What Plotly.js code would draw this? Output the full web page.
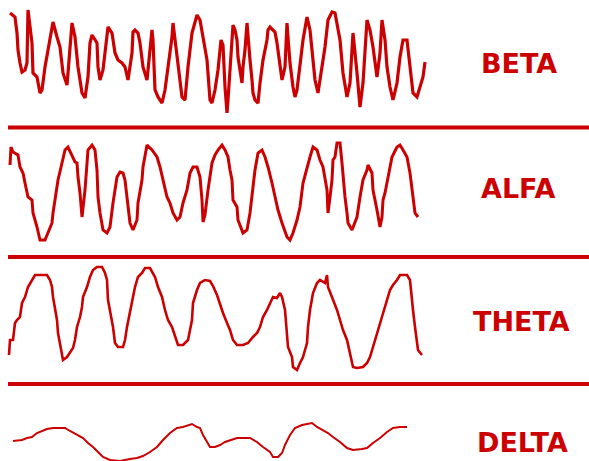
<!DOCTYPE html>
<html>
<head>
<meta charset="utf-8">
<script src="https://cdn.plot.ly/plotly-3.0.1.min.js"></script>
<style>
html,body{margin:0;padding:0;background:#fff;}
#chart{width:589px;height:461px;}
</style>
</head>
<body>
<div id="chart"></div>
<script>
// ---- Data (time samples and amplitudes) ----
var bandNames = ["BETA", "ALFA", "THETA", "DELTA"];

var betaT = [10,15,17,18,20,22,25,27,28,30,32,33,37,40,42,45,48,52,53,57,60,63,67,68,70,72,75,78,82,85,88,90,92,97,98,100,103,107,108,112,115,118,122,125,128,132,133,135,138,140,143,147,150,152,153,155,158,162,165,168,172,173,175,178,182,185,188,192,197,200,203,207,210,212,215,218,221,223,225,227,228,230,232,233,235,237,238,240,242,243,245,247,248,250,252,253,255,258,260,263,267,268,270,275,277,280,282,285,287,288,290,293,295,297,300,303,307,310,313,315,318,322,325,328,332,335,338,340,343,347,350,353,357,360,363,365,367,370,373,377,380,382,385,387,390,393,397,400,403,407,410,413,417,420,423,425];
var betaAmp = [49,45,29,12,-1,-10,-8,-1,52,32,19,-11,-15,-31,-28,-5,12,35,40,25,15,-11,-23,-11,12,39,25,-5,-31,-36,-15,19,27,19,-5,-18,-8,29,35,29,9,2,-1,-5,-18,9,30,32,29,19,-5,-18,15,32,22,-28,-35,-41,-28,-5,25,39,22,-5,-35,-38,-5,29,47,42,25,2,-38,-41,-28,-8,22,17,-25,-51,-38,-5,19,37,32,22,5,-8,-21,-5,12,39,25,2,-18,-31,-38,-41,-21,2,22,32,35,30,19,-5,-18,-5,39,25,-1,-25,-35,-28,-5,22,45,32,2,-18,-31,-5,15,42,50,49,35,22,-11,-35,-21,29,-11,-45,-21,12,42,32,15,-15,9,42,22,-5,-25,-38,-21,5,22,22,-5,-31,-35,-25,-15,0];

var alfaT = [10,11,13,18,20,23,25,28,32,33,37,40,45,48,52,53,58,62,65,68,72,75,77,78,80,82,85,87,88,92,95,97,98,100,103,107,110,113,115,117,120,123,125,127,130,133,137,138,142,143,147,152,157,160,163,167,170,173,177,180,183,187,190,193,197,200,202,203,205,208,212,215,218,222,225,228,230,232,233,237,238,242,243,247,250,253,255,258,262,265,268,272,275,278,282,287,290,293,297,300,303,307,310,313,317,320,323,327,328,330,332,333,335,337,340,342,343,345,347,348,352,355,357,360,363,367,368,372,373,377,380,382,383,385,388,392,397,400,403,407,410,413,415,418];
var alfaAmp = [27,45,40,37,25,19,9,-5,-8,-21,-35,-48,-48,-41,-31,-21,12,29,42,45,37,30,29,15,-1,-25,2,29,42,47,42,22,-5,-21,-38,-41,-35,-11,2,15,20,19,12,-5,-31,-38,-28,-11,12,25,47,42,35,25,12,-5,-11,-21,-28,-25,-11,2,19,25,25,15,-8,-30,-23,2,29,37,42,47,42,35,22,12,-8,-15,-28,-38,-41,-38,-21,5,22,39,42,35,25,9,-5,-18,-31,-45,-48,-41,-28,-15,9,25,35,45,42,32,25,2,-21,-5,12,32,35,49,49,29,15,-5,-21,-31,-38,-31,-25,-5,12,22,27,19,2,-18,-35,-25,-8,-1,15,35,45,47,42,35,19,-8,-21,-25];

var thetaT = [9,10,13,15,17,20,22,25,28,32,35,40,47,50,52,53,55,57,58,60,63,67,70,73,75,77,80,82,83,87,90,93,97,102,105,107,108,110,113,115,118,123,125,127,130,133,135,138,142,145,150,155,158,162,165,168,172,175,178,183,188,190,192,193,197,200,205,210,213,217,220,223,227,230,233,237,243,248,253,257,260,263,267,270,273,277,280,282,285,288,292,293,297,300,303,307,308,310,313,317,320,325,327,328,332,335,337,340,343,347,350,353,357,363,367,370,373,377,380,383,387,390,393,397,400,407,410,412,413,415,417,418,422];
var thetaAmp = [-35,-20,-20,-3,0,3,17,23,33,40,45,45,45,40,33,23,13,0,-13,-23,-40,-37,-33,-28,-20,-7,3,13,23,33,43,50,53,53,47,40,20,10,-7,-23,-27,-27,-20,-7,10,23,33,43,47,52,52,43,33,23,10,0,-7,-17,-25,-25,-20,-10,0,17,30,37,40,39,34,25,15,7,-3,-10,-20,-25,-25,-23,-17,-13,-7,3,10,17,23,22,27,23,10,-27,-37,-47,-50,-43,-37,-23,-7,10,27,37,40,37,45,33,23,17,10,0,-10,-20,-33,-47,-48,-47,-43,-37,-27,-13,-3,7,20,30,35,40,45,45,40,17,10,-7,-20,-30,-35];

var deltaT = [13,22,27,32,37,42,47,53,65,70,77,83,88,93,98,103,110,120,130,137,143,150,157,163,170,177,183,192,197,200,203,207,210,215,220,225,230,237,250,257,263,270,273,278,282,285,290,295,302,312,317,322,328,333,340,347,353,362,367,373,380,387,393,400,407];
var deltaAmp = [-1,0,2,3,7,9,11,12,12,9,5,2,-3,-7,-12,-17,-20,-21,-19,-18,-16,-12,-7,0,7,12,13,16,13,12,5,-2,-7,-7,-5,-2,0,2,2,-2,-7,-12,-17,-17,-13,-5,5,12,15,17,13,10,7,3,-2,-8,-10,-9,-8,-3,2,8,12,13,13];

// ---- Layout geometry (pixels of the 589x461 page) ----
var W = 589, H = 461;
var RED = "#cc0000";
var panels = [
  {top: 0,   bottom: 127, center: 62,  width: 3.2, labelY: 63},
  {top: 127, bottom: 257, center: 192, width: 3,   labelY: 188},
  {top: 257, bottom: 384, center: 320, width: 2.6, labelY: 321},
  {top: 384, bottom: 461, center: 440, width: 2,   labelY: 442}
];
var labelX = [519, 518, 521, 522];
var separators = [127.5, 257, 384];

var series = [[betaT, betaAmp], [alfaT, alfaAmp], [thetaT, thetaAmp], [deltaT, deltaAmp]];

var traces = [];
var layout = {
  width: W, height: H,
  margin: {l: 0, r: 0, t: 0, b: 0, pad: 0},
  paper_bgcolor: "#ffffff",
  plot_bgcolor: "rgba(0,0,0,0)",
  showlegend: false,
  xaxis: {range: [0, W], visible: false, fixedrange: true},
  shapes: [],
  annotations: []
};

panels.forEach(function (p, i) {
  var axName = i === 0 ? "yaxis" : "yaxis" + (i + 1);
  var axRef = i === 0 ? "y" : "y" + (i + 1);
  layout[axName] = {
    domain: [1 - p.bottom / H, 1 - p.top / H],
    range: [p.center - p.bottom, p.center - p.top],
    visible: false,
    fixedrange: true
  };
  traces.push({
    type: "scatter",
    mode: "lines",
    x: series[i][0],
    y: series[i][1],
    xaxis: "x",
    yaxis: axRef,
    line: {color: RED, width: p.width, shape: "linear"},
    hoverinfo: "skip",
    name: bandNames[i]
  });
  layout.annotations.push({
    xref: "paper", yref: "paper",
    x: labelX[i] / W, y: 1 - p.labelY / H,
    xanchor: "center", yanchor: "middle",
    text: "<b>" + bandNames[i] + "</b>",
    showarrow: false,
    font: {family: "DejaVu Sans", size: 27, color: RED}
  });
});

separators.forEach(function (sy) {
  layout.shapes.push({
    type: "line", xref: "paper", yref: "paper",
    x0: 8 / W, x1: 1, y0: 1 - sy / H, y1: 1 - sy / H,
    line: {color: RED, width: 4}
  });
});

Plotly.newPlot("chart", traces, layout, {displayModeBar: false, staticPlot: true});
</script>
</body>
</html>
